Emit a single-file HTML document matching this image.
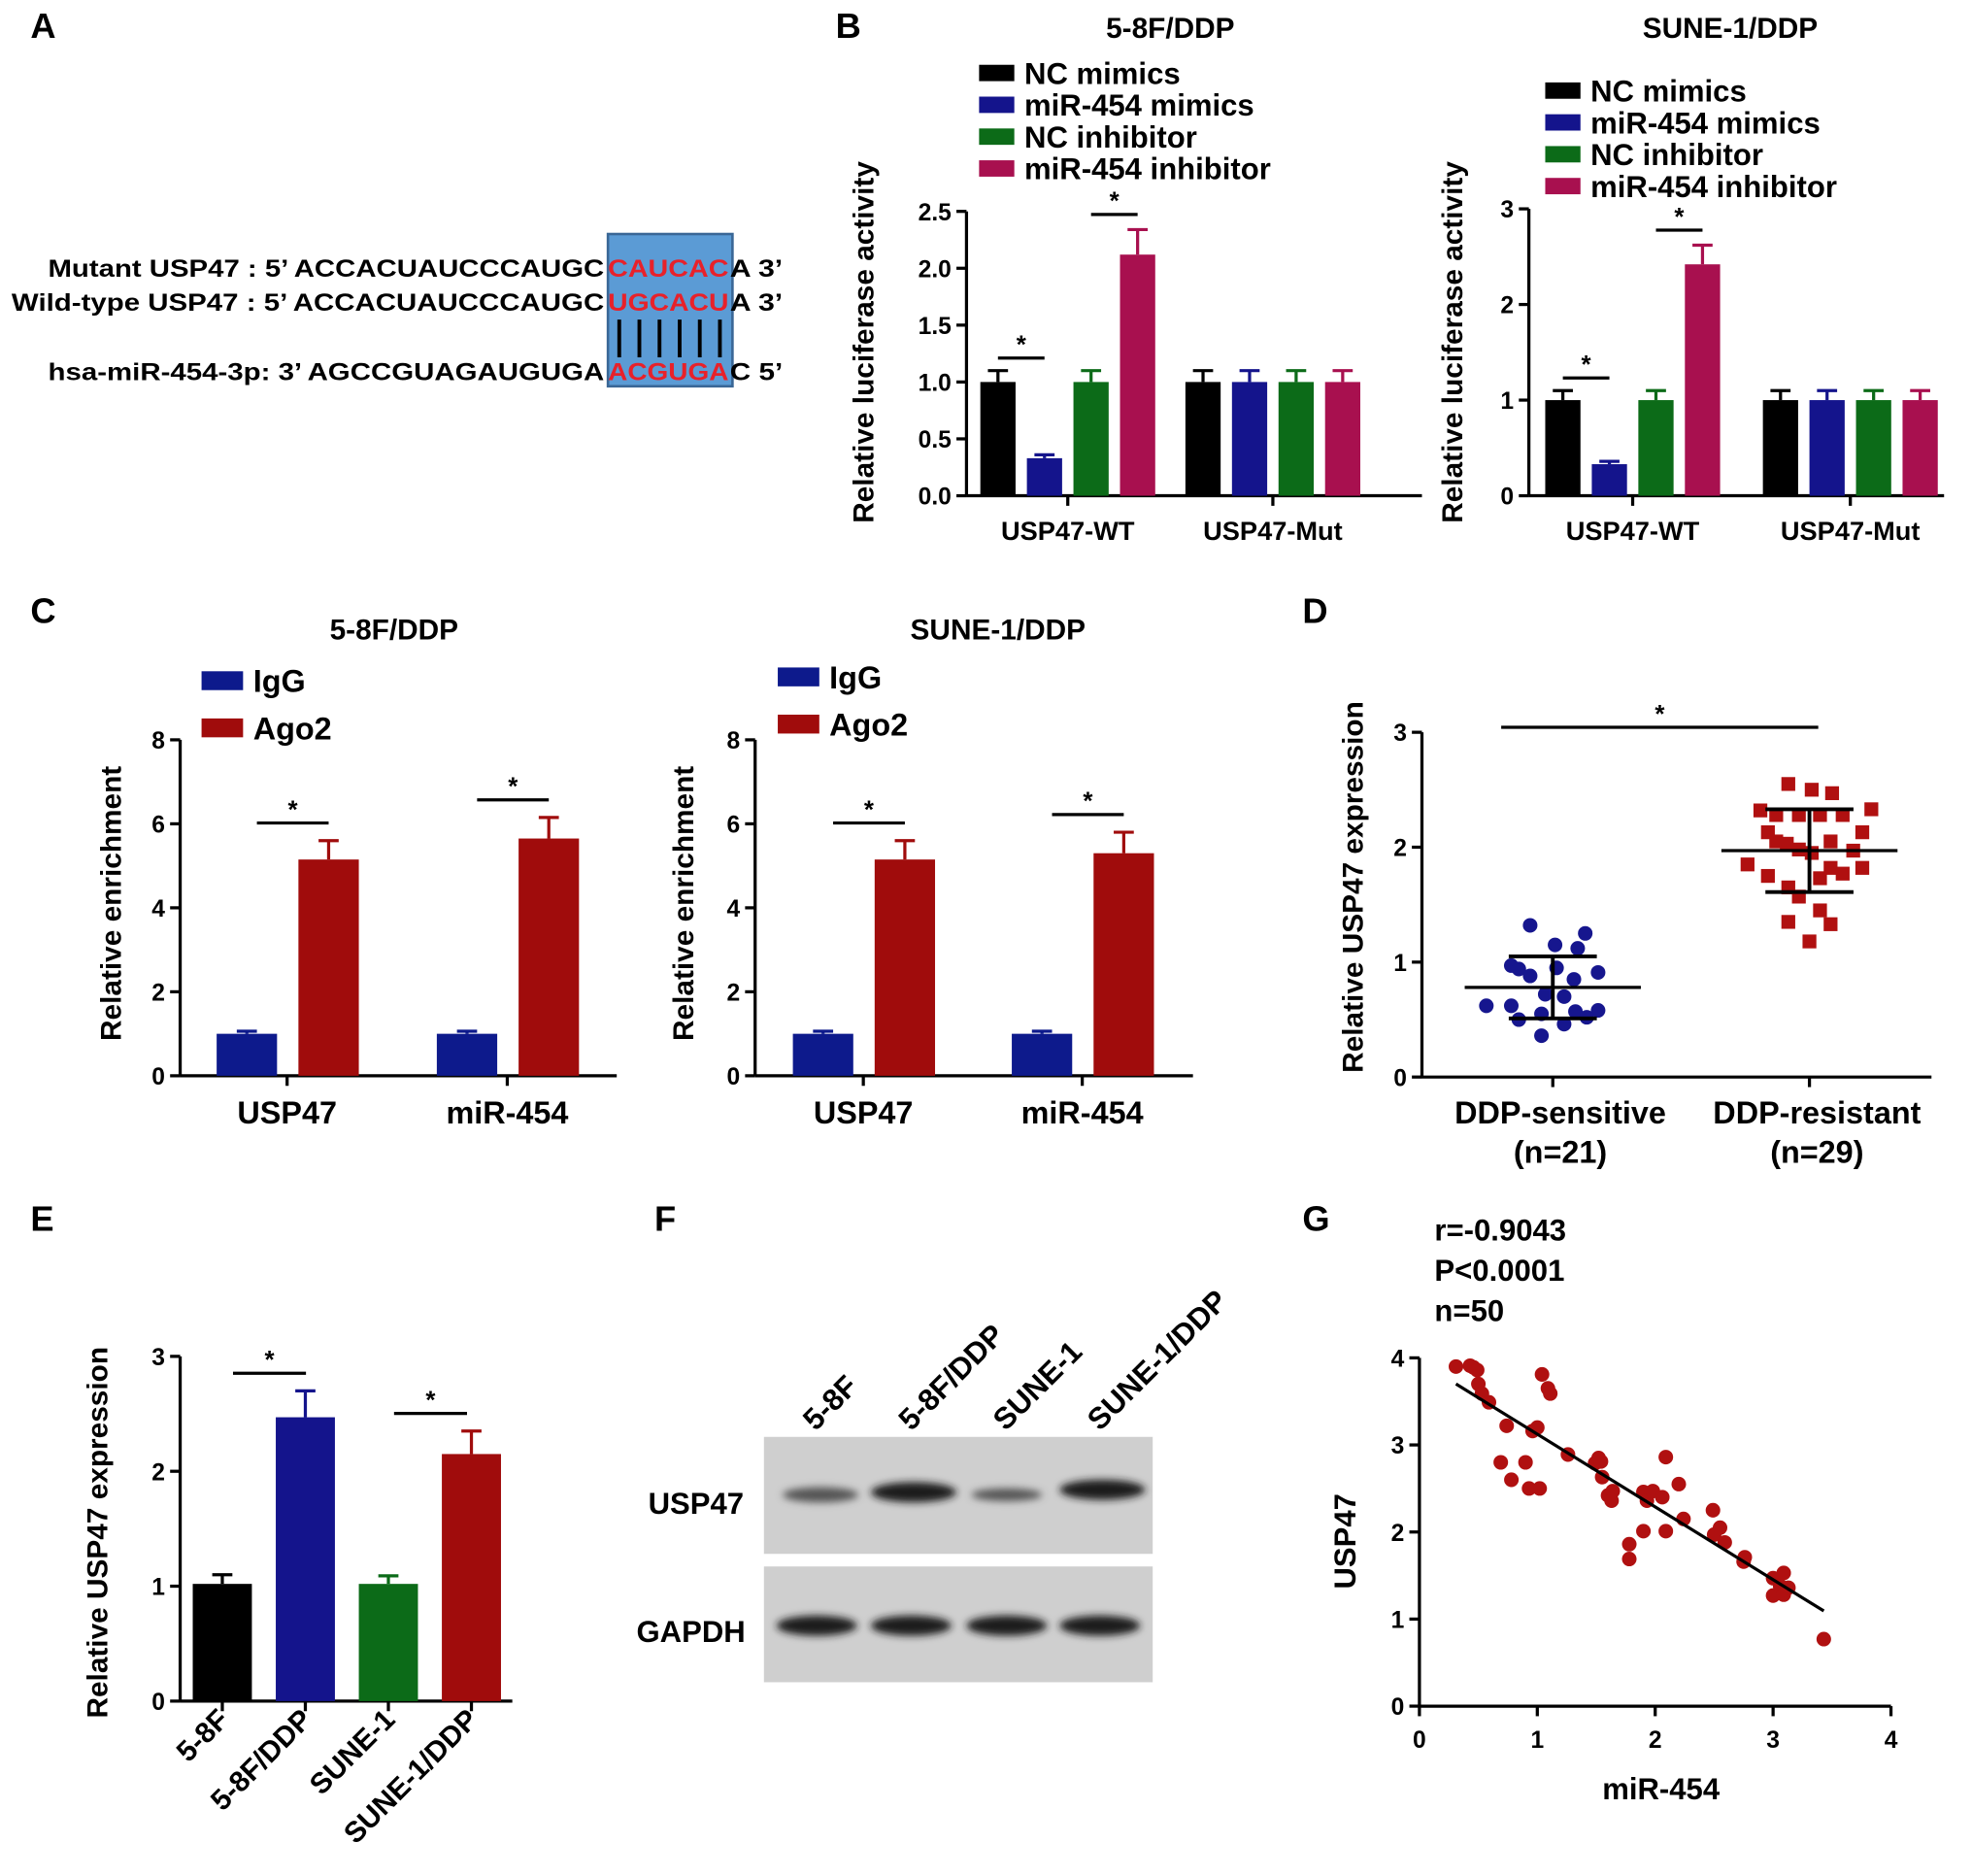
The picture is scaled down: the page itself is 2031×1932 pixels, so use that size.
<!DOCTYPE html>
<html><head><meta charset="utf-8"><style>
html,body{margin:0;padding:0;background:#fff}
svg{display:block;font-family:"Liberation Sans",Arial,sans-serif;font-weight:bold}
</style></head><body>
<svg id="fig" xmlns="http://www.w3.org/2000/svg" width="2031" height="1932" viewBox="0 0 1567 1491">
<rect width="1567" height="1491" fill="#fff"/>
<g>
<text x="24" y="30" font-size="28">A</text>
<rect x="483" y="186" width="99" height="121" fill="#5b9bd5" stroke="#3a6796" stroke-width="2"/>
<text y="220" font-size="19.5"><tspan x="38" textLength="442" lengthAdjust="spacingAndGlyphs">Mutant USP47 : 5’ ACCACUAUCCCAUGC</tspan><tspan x="483" fill="#e8212a" textLength="96" lengthAdjust="spacingAndGlyphs">CAUCAC</tspan><tspan x="580" textLength="42" lengthAdjust="spacingAndGlyphs">A 3’</tspan></text>
<text y="247" font-size="19.5"><tspan x="9" textLength="471" lengthAdjust="spacingAndGlyphs">Wild-type USP47 : 5’ ACCACUAUCCCAUGC</tspan><tspan x="483" fill="#e8212a" textLength="96" lengthAdjust="spacingAndGlyphs">UGCACU</tspan><tspan x="580" textLength="42" lengthAdjust="spacingAndGlyphs">A 3’</tspan></text>
<text y="302" font-size="19.5"><tspan x="38" textLength="442" lengthAdjust="spacingAndGlyphs">hsa-miR-454-3p: 3’ AGCCGUAGAUGUGA</tspan><tspan x="483" fill="#e8212a" textLength="96" lengthAdjust="spacingAndGlyphs">ACGUGA</tspan><tspan x="580" textLength="42" lengthAdjust="spacingAndGlyphs">C 5’</tspan></text>
<g stroke="#000" stroke-width="3">
<line x1="492" y1="254" x2="492" y2="284"/><line x1="508" y1="254" x2="508" y2="284"/><line x1="524" y1="254" x2="524" y2="284"/><line x1="540" y1="254" x2="540" y2="284"/><line x1="556" y1="254" x2="556" y2="284"/><line x1="572" y1="254" x2="572" y2="284"/>
</g>
</g>
<text x="664" y="30" font-size="28">B</text>
<text x="24" y="495" font-size="28">C</text>
<text x="1035" y="495" font-size="28">D</text>
<text x="24" y="978" font-size="28">E</text>
<text x="520" y="978" font-size="28">F</text>
<text x="1035" y="978" font-size="28">G</text>
<g>
<defs><filter id="blur" x="-20%" y="-50%" width="140%" height="200%"><feGaussianBlur stdDeviation="3"/></filter></defs>
<rect x="607" y="1142" width="309" height="93" fill="#cfcfcf"/>
<rect x="607" y="1245" width="309" height="92" fill="#cfcfcf"/>
<g filter="url(#blur)">
<ellipse cx="652" cy="1188" rx="30" ry="6" fill="#555"/>
<ellipse cx="726" cy="1186" rx="34" ry="8" fill="#1a1a1a"/>
<ellipse cx="800" cy="1188" rx="28" ry="5" fill="#555"/>
<ellipse cx="876" cy="1184" rx="34" ry="8" fill="#1a1a1a"/>
<ellipse cx="649" cy="1292" rx="32" ry="8" fill="#1a1a1a"/>
<ellipse cx="724" cy="1292" rx="32" ry="8" fill="#1a1a1a"/>
<ellipse cx="800" cy="1292" rx="32" ry="8" fill="#1a1a1a"/>
<ellipse cx="874" cy="1292" rx="32" ry="8" fill="#1a1a1a"/>
</g>
<text x="553" y="1203" font-size="24" text-anchor="middle">USP47</text>
<text x="549" y="1305" font-size="24" text-anchor="middle">GAPDH</text>
<text transform="translate(648,1138) rotate(-45)" font-size="24">5-8F</text>
<text transform="translate(724,1138) rotate(-45)" font-size="24">5-8F/DDP</text>
<text transform="translate(799,1138) rotate(-45)" font-size="24">SUNE-1</text>
<text transform="translate(874,1138) rotate(-45)" font-size="24">SUNE-1/DDP</text>
</g>
</svg>
<script>
var bSeries = ['NC mimics','miR-454 mimics','NC inhibitor','miR-454 inhibitor'];
var bGroups = ['USP47-WT','USP47-Mut'];
var b1Values = [[1.0,0.33,1.0,2.12],[1.0,1.0,1.0,1.0]];
var b1Errors = [[0.1,0.03,0.1,0.22],[0.1,0.1,0.1,0.1]];
var b1Ticks = ['0.0','0.5','1.0','1.5','2.0','2.5'];
var b2Values = [[1.0,0.33,1.0,2.42],[1.0,1.0,1.0,1.0]];
var b2Errors = [[0.1,0.03,0.1,0.2],[0.1,0.1,0.1,0.1]];
var b2Ticks = ['0','1','2','3'];
var cSeries = ['IgG','Ago2'];
var cGroups = ['USP47','miR-454'];
var c1Values = [[1.0,5.15],[1.0,5.65]];
var c1Errors = [[0.06,0.45],[0.06,0.5]];
var c2Values = [[1.0,5.15],[1.0,5.3]];
var c2Errors = [[0.06,0.45],[0.06,0.5]];
var cTicks = ['0','2','4','6','8'];
var eCategories = ['5-8F','5-8F/DDP','SUNE-1','SUNE-1/DDP'];
var eValues = [1.02,2.47,1.02,2.15];
var eErrors = [0.08,0.23,0.07,0.2];
var eTicks = ['0','1','2','3'];
var dCategories = ['DDP-sensitive','DDP-resistant'];
var dCounts = ['(n=21)','(n=29)'];
var dSensitive = [1.32,1.25,1.15,1.12,0.97,0.94,0.95,0.88,0.85,0.91,0.72,0.7,0.62,0.62,0.58,0.57,0.55,0.52,0.5,0.46,0.36];
var dSensitiveJitter = [-0.3,0.43,0.03,0.33,-0.55,-0.45,0.05,-0.3,0.28,0.6,-0.1,0.15,-0.88,-0.55,0.6,0.3,-0.15,0.45,-0.45,0.15,-0.15];
var dResistant = [2.55,2.5,2.47,2.33,2.32,2.28,2.28,2.28,2.28,2.13,2.13,2.05,2.05,2.03,1.98,1.97,1.95,1.85,1.82,1.82,1.75,1.73,1.77,1.65,1.57,1.45,1.35,1.33,1.18];
var dResistantJitter = [-0.28,0.03,0.3,0.82,-0.65,-0.44,-0.14,0.14,0.44,-0.55,0.7,-0.44,0.28,-0.3,-0.14,0.58,0.03,-0.82,0.7,0.28,-0.55,0.14,0.44,-0.28,-0.14,0.14,-0.28,0.28,0.0];
var dMean = [0.78,1.97];
var dSD = [0.27,0.36];
var dTicks = ['0','1','2','3'];
var gX = [0.31,0.43,0.46,0.49,0.5,0.53,0.59,0.74,0.69,0.78,0.9,0.93,1.02,0.96,1.0,1.04,1.09,1.11,1.26,1.49,1.52,1.54,1.55,1.6,1.64,1.63,1.78,1.78,1.9,1.9,1.93,1.98,2.06,2.09,2.09,2.2,2.24,2.49,2.5,2.55,2.59,2.75,2.76,3.0,3.0,3.06,3.09,3.09,3.13,3.43];
var gY = [3.9,3.91,3.89,3.86,3.7,3.59,3.49,3.22,2.8,2.6,2.8,2.5,2.5,3.16,3.2,3.81,3.65,3.59,2.89,2.79,2.85,2.81,2.63,2.42,2.47,2.36,1.86,1.69,2.01,2.46,2.36,2.47,2.4,2.86,2.01,2.55,2.15,2.25,1.97,2.05,1.88,1.66,1.71,1.47,1.27,1.38,1.53,1.28,1.36,0.77];
var gTicks = ['0','1','2','3','4'];
var gStats = ['r=-0.9043','P<0.0001','n=50'];

var NS = 'http://www.w3.org/2000/svg';
var svg = document.getElementById('fig');
function mk(tag, attrs, parent, txt) {
  var e = document.createElementNS(NS, tag);
  for (var k in attrs) e.setAttribute(k, attrs[k]);
  if (txt !== undefined) e.textContent = txt;
  (parent || svg).appendChild(e);
  return e;
}
function scaleY(y0, yTop, vmax) { return function (v) { return y0 - (y0 - yTop) * v / vmax; }; }
function yAxis(g, x, y0, yTop, ticks, vmax, fs) {
  var sy = scaleY(y0, yTop, vmax);
  var ax = mk('line', {x1: x, y1: y0, x2: x, y2: yTop, stroke: '#000', 'stroke-width': 2.5}, g);
  
  
  for (var i = 0; i < ticks.length; i++) {
    var v = vmax * i / (ticks.length - 1);
    var y = sy(v);
    var t = mk('line', {x1: x - 8, y1: y, x2: x, y2: y, stroke: '#000', 'stroke-width': 2.5}, g);
    
    
    var l = mk('text', {x: x - 12, y: y + 7, 'font-size': fs || 19, 'text-anchor': 'end'}, g, ticks[i]);
    
    
  }
  return sy;
}
function xAxisLine(g, x1, x2, y) {
  var ax = mk('line', {x1: x1, y1: y, x2: x2, y2: y, stroke: '#000', 'stroke-width': 2.5}, g);
  
  
}
function xTick(g, x, y) {
  var t = mk('line', {x1: x, y1: y, x2: x, y2: y + 8, stroke: '#000', 'stroke-width': 2.5}, g);
  
  
}
function yTitle(g, x, y, txt, fs) {
  var t = mk('text', {transform: 'translate(' + x + ',' + y + ') rotate(-90)', 'font-size': fs || 23, 'text-anchor': 'middle'}, g, txt);
  
  
}
function bar(g, x, w, v, err, sy, color) {
  var top = sy(v + err), yv = sy(v);
  var el = mk('line', {x1: x + w / 2, y1: yv, x2: x + w / 2, y2: top, stroke: color, 'stroke-width': 2.5}, g);
  
  
  var cap = mk('line', {x1: x + w / 2 - Math.min(8, w / 3), y1: top, x2: x + w / 2 + Math.min(8, w / 3), y2: top, stroke: color, 'stroke-width': 2.5}, g);
  
  
  var r = mk('rect', {x: x, y: yv, width: w, height: sy(0) - yv, fill: color}, g);
  
  
  return top;
}
function sig(g, xa, xb, topY, off) {
  var y = topY - off;
  var l = mk('line', {x1: xa, y1: y, x2: xb, y2: y, stroke: '#000', 'stroke-width': 2.5}, g);
  
  
  var s = mk('text', {x: (xa + xb) / 2, y: y - 4, 'font-size': 20, 'text-anchor': 'middle'}, g, '*');
  
  
}
function legend(g, x, y, dy, rw, rh, names, colors, fs) {
  for (var i = 0; i < names.length; i++) {
    var r = mk('rect', {x: x, y: y + i * dy - rh / 2, width: rw, height: rh, fill: colors[i]}, g);
    
    
    var t = mk('text', {x: x + rw + 8, y: y + i * dy + fs * 0.36, 'font-size': fs}, g, names[i]);
    
    
  }
}
function title(g, x, y, txt) {
  var t = mk('text', {x: x, y: y, 'font-size': 23, 'text-anchor': 'middle'}, g, txt);
  
  
}

var bColors = ['#000000', '#14148c', '#0c6b18', '#a8104f'];
function panelB(name, ax, y0, yTop, ticks, vmax, values, errors, left, pitch, gpitch, xEnd, ttl, tx, leg, ly, titleX) {
  var g = mk('g', {});
  
  
  title(g, tx, 30, ttl);
  legend(g, leg, ly, 25.3, 28, 13, bSeries, bColors, 24);
  yTitle(g, titleX, 272, 'Relative luciferase activity', 23);
  var sy = yAxis(g, ax, y0, yTop, ticks, vmax, 19);
  xAxisLine(g, ax, xEnd, y0);
  for (var gi = 0; gi < bGroups.length; gi++) {
    var tops = [];
    for (var i = 0; i < bSeries.length; i++) {
      var x = left + gi * gpitch + i * pitch;
      tops.push(bar(g, x, 28, values[gi][i], errors[gi][i], sy, bColors[i]));
    }
    var cx = left + gi * gpitch + 1.5 * pitch + 14;
    xTick(g, cx, y0);
    var lab = mk('text', {x: cx, y: y0 + 35, 'font-size': 21, 'text-anchor': 'middle'}, g, bGroups[gi]);
    
    
    if (gi === 0) {
      sig(g, left + 14, left + pitch + 14, Math.min(tops[0], tops[1]), 10);
      sig(g, left + 2 * pitch + 14, left + 3 * pitch + 14, Math.min(tops[2], tops[3]), 12);
    }
  }
}
panelB('panel-b-5-8f-ddp', 768, 394, 168, b1Ticks, 2.5, b1Values, b1Errors, 779, 37, 163, 1130, '5-8F/DDP', 930, 778, 58, 694);
panelB('panel-b-sune-1-ddp', 1215, 394, 166, b2Ticks, 3, b2Values, b2Errors, 1228, 37, 173, 1545, 'SUNE-1/DDP', 1375, 1228, 72, 1162);

var cColors = ['#0d1a8c', '#a00c0c'];
function panelC(name, ax, xEnd, values, errors, left, gpitch, ttl, tx, leg, ly, titleX) {
  var g = mk('g', {});
  
  
  title(g, tx, 508, ttl);
  legend(g, leg, ly, 37.5, 33, 15, cSeries, cColors, 25);
  yTitle(g, titleX, 718, 'Relative enrichment', 23);
  var sy = yAxis(g, ax, 855, 588, cTicks, 8, 19);
  xAxisLine(g, ax, xEnd, 855);
  for (var gi = 0; gi < cGroups.length; gi++) {
    var tops = [];
    for (var i = 0; i < 2; i++) {
      var x = left + gi * gpitch + i * 65;
      tops.push(bar(g, x, 48, values[gi][i], errors[gi][i], sy, cColors[i]));
    }
    var cx = left + gi * gpitch + 56;
    xTick(g, cx, 855);
    var lab = mk('text', {x: cx, y: 893, 'font-size': 25, 'text-anchor': 'middle'}, g, cGroups[gi]);
    
    
    sig(g, left + gi * gpitch + 32, left + gi * gpitch + 89, Math.min(tops[0], tops[1]), 14);
  }
}
panelC('panel-c-5-8f-ddp', 143, 490, c1Values, c1Errors, 172, 175, '5-8F/DDP', 313, 160, 541, 96);
panelC('panel-c-sune-1-ddp', 600, 948, c2Values, c2Errors, 630, 174, 'SUNE-1/DDP', 793, 618, 538, 551);

(function () {
  var g = mk('g', {});
  
  
  var sy = yAxis(g, 1130, 856, 582, dTicks, 3, 19);
  xAxisLine(g, 1130, 1535, 856);
  yTitle(g, 1083, 705, 'Relative USP47 expression', 23);
  var cxs = [1234, 1438];
  var unit = 60;
  for (var c = 0; c < 2; c++) {
    xTick(g, cxs[c], 856);
    var l1 = mk('text', {x: cxs[c] + 6, y: 893, 'font-size': 25, 'text-anchor': 'middle'}, g, dCategories[c]);
    
    
    var l2 = mk('text', {x: cxs[c] + 6, y: 924, 'font-size': 25, 'text-anchor': 'middle'}, g, dCounts[c]);
    
    
  }
  for (var i = 0; i < dSensitive.length; i++) {
    var p = mk('circle', {cx: cxs[0] + dSensitiveJitter[i] * unit, cy: sy(dSensitive[i]), r: 5.8, fill: '#16168e'}, g);
    
    
  }
  for (var j = 0; j < dResistant.length; j++) {
    var q = mk('rect', {x: cxs[1] + dResistantJitter[j] * unit - 5.5, y: sy(dResistant[j]) - 5.5, width: 11, height: 11, fill: '#b01010'}, g);
    
    
  }
  for (var c2 = 0; c2 < 2; c2++) {
    var cx = cxs[c2];
    var m = mk('line', {x1: cx - 70, y1: sy(dMean[c2]), x2: cx + 70, y2: sy(dMean[c2]), stroke: '#000', 'stroke-width': 2.5}, g);
    
    
    var v = mk('line', {x1: cx, y1: sy(dMean[c2] - dSD[c2]), x2: cx, y2: sy(dMean[c2] + dSD[c2]), stroke: '#000', 'stroke-width': 3}, g);
    
    
    var a = mk('line', {x1: cx - 35, y1: sy(dMean[c2] + dSD[c2]), x2: cx + 35, y2: sy(dMean[c2] + dSD[c2]), stroke: '#000', 'stroke-width': 3}, g);
    
    
    var b = mk('line', {x1: cx - 35, y1: sy(dMean[c2] - dSD[c2]), x2: cx + 35, y2: sy(dMean[c2] - dSD[c2]), stroke: '#000', 'stroke-width': 3}, g);
    
    
  }
  sig(g, 1193, 1445, 590, 12);
})();

(function () {
  var g = mk('g', {});
  
  
  var colors = ['#000000', '#14148c', '#0c6b18', '#a00c0c'];
  var sy = yAxis(g, 143, 1352, 1078, eTicks, 3, 19);
  xAxisLine(g, 143, 407, 1352);
  yTitle(g, 85, 1218, 'Relative USP47 expression', 23);
  var tops = [];
  for (var i = 0; i < eCategories.length; i++) {
    var x = 153 + i * 66;
    tops.push(bar(g, x, 47, eValues[i], eErrors[i], sy, colors[i]));
    xTick(g, x + 23.5, 1352);
    var l = mk('text', {transform: 'translate(' + (x + 30) + ',1368) rotate(-45)', 'font-size': 23, 'text-anchor': 'end'}, g, eCategories[i]);
    
    
  }
  sig(g, 153 + 32, 153 + 66 + 24, Math.min(tops[0], tops[1]), 14);
  sig(g, 153 + 132 + 28, 153 + 198 + 20, Math.min(tops[2], tops[3]), 14);
})();

(function () {
  var g = mk('g', {});
  
  
  var x0 = 1128, xu = 93.7, y0 = 1356;
  var sx = function (v) { return x0 + v * xu; };
  var sy = yAxis(g, x0, y0, y0 - 4 * 69.2, gTicks, 4, 19);
  xAxisLine(g, x0, sx(4), y0);
  for (var i = 0; i < gTicks.length; i++) {
    xTick(g, sx(i), y0);
    var l = mk('text', {x: sx(i), y: y0 + 33, 'font-size': 19, 'text-anchor': 'middle'}, g, gTicks[i]);
    
    
  }
  yTitle(g, 1077, 1225, 'USP47', 24);
  var xt = mk('text', {x: 1320, y: 1430, 'font-size': 24, 'text-anchor': 'middle'}, g, 'miR-454');
  
  
  for (var s = 0; s < gStats.length; s++) {
    var st = mk('text', {x: 1140, y: 986 + s * 32, 'font-size': 24}, g, gStats[s]);
    
    
  }
  var n = gX.length, mx = 0, my = 0;
  for (var k = 0; k < n; k++) { mx += gX[k]; my += gY[k]; }
  mx /= n; my /= n;
  var sxy = 0, sxx = 0, xmin = Infinity, xmax = -Infinity;
  for (k = 0; k < n; k++) { sxy += (gX[k] - mx) * (gY[k] - my); sxx += (gX[k] - mx) * (gX[k] - mx); xmin = Math.min(xmin, gX[k]); xmax = Math.max(xmax, gX[k]); }
  var slope = sxy / sxx, icpt = my - slope * mx;
  for (k = 0; k < n; k++) {
    var p = mk('circle', {cx: sx(gX[k]), cy: sy(gY[k]), r: 5.8, fill: '#b01010'}, g);
    
    
  }
  var fl = mk('line', {x1: sx(xmin), y1: sy(icpt + slope * xmin), x2: sx(xmax), y2: sy(icpt + slope * xmax), stroke: '#000', 'stroke-width': 2.5}, g);
  
  
})();
</script>
</body></html>
